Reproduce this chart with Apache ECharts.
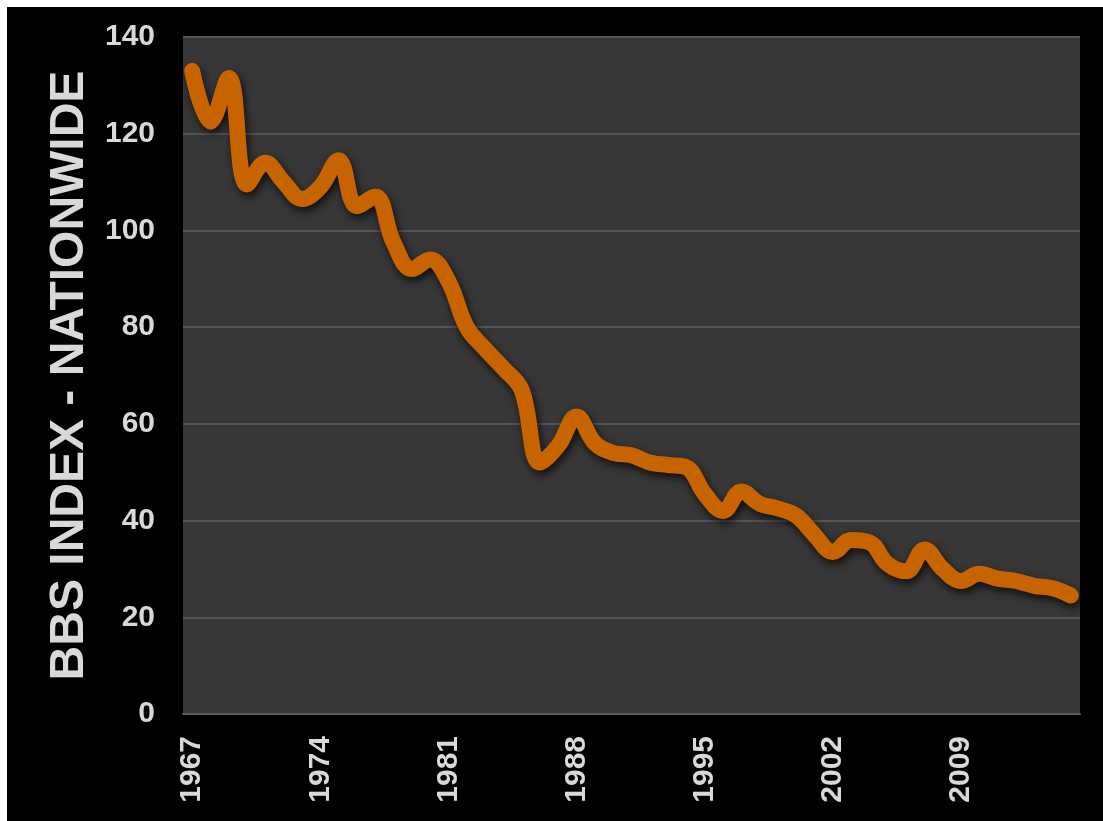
<!DOCTYPE html>
<html>
<head>
<meta charset="utf-8">
<script src="https://cdn.jsdelivr.net/npm/echarts@6/dist/echarts.min.js"></script>
<style>
  html, body { margin: 0; padding: 0; background: #ffffff; }
  #chart { position: absolute; left: 7px; top: 7px; width: 1096px; height: 814px; background: #000000; }
</style>
</head>
<body>
<div id="chart"></div>
<script>
// Years 1967–2015
const years = [];
for (let y = 1967; y <= 2015; y++) years.push(String(y));

// BBS index values
const bbsIndex = [
  133, 122.5, 131.5, 109.5, 114, 110, 106.5, 109, 114.5, 105,
  107, 97.5, 92, 94, 89.5, 80, 75.5, 71.5, 67, 52,
  55.5, 61.5, 56, 54, 53.5, 52, 51.5, 51, 45.5, 42,
  46, 43.5, 42.5, 41, 37, 33.5, 36, 35.5, 31, 29.5,
  34, 30, 27.5, 29, 28, 27.5, 26.5, 26, 24.5
];

const yTicks = [0, 20, 40, 60, 80, 100, 120, 140];
const axisTitle = 'BBS INDEX - NATIONWIDE';

const chart = echarts.init(document.getElementById('chart'), null, { renderer: 'canvas' });
chart.setOption({
  backgroundColor: '#000000',
  animation: false,
  grid: {
    left: 176, right: 23, top: 30, bottom: 107,
    show: true, backgroundColor: '#373737', borderWidth: 0
  },
  xAxis: {
    type: 'category',
    data: years,
    boundaryGap: true,
    axisLine: { show: true, lineStyle: { color: '#5a5a5a', width: 2 } },
    axisTick: { show: false },
    axisLabel: {
      interval: 6,
      rotate: 90,
      margin: 22,
      color: '#d9d9d9',
      fontFamily: 'Liberation Sans, Arial, sans-serif',
      fontWeight: 'bold',
      fontSize: 30
    },
    splitLine: { show: false }
  },
  yAxis: {
    type: 'value',
    min: yTicks[0],
    max: yTicks[yTicks.length - 1],
    interval: 20,
    name: axisTitle,
    nameLocation: 'middle',
    nameGap: 89,
    nameRotate: 90,
    nameTextStyle: {
      color: '#d9d9d9',
      fontFamily: 'Liberation Sans, Arial, sans-serif',
      fontWeight: 'bold',
      fontSize: 48
    },
    axisLine: { show: false },
    axisTick: { show: false },
    axisLabel: {
      margin: 28,
      color: '#d9d9d9',
      fontFamily: 'Liberation Sans, Arial, sans-serif',
      fontWeight: 'bold',
      fontSize: 30
    },
    splitLine: { show: true, lineStyle: { color: '#555555', width: 2 } }
  },
  series: [{
    type: 'line',
    data: bbsIndex,
    smooth: 0.4,
    symbol: 'none',
    lineStyle: {
      color: '#c86400',
      width: 16,
      cap: 'round',
      join: 'round',
      shadowColor: 'rgba(0,0,0,0.75)',
      shadowBlur: 8,
      shadowOffsetX: 2,
      shadowOffsetY: 4
    }
  }]
});
</script>
</body>
</html>
